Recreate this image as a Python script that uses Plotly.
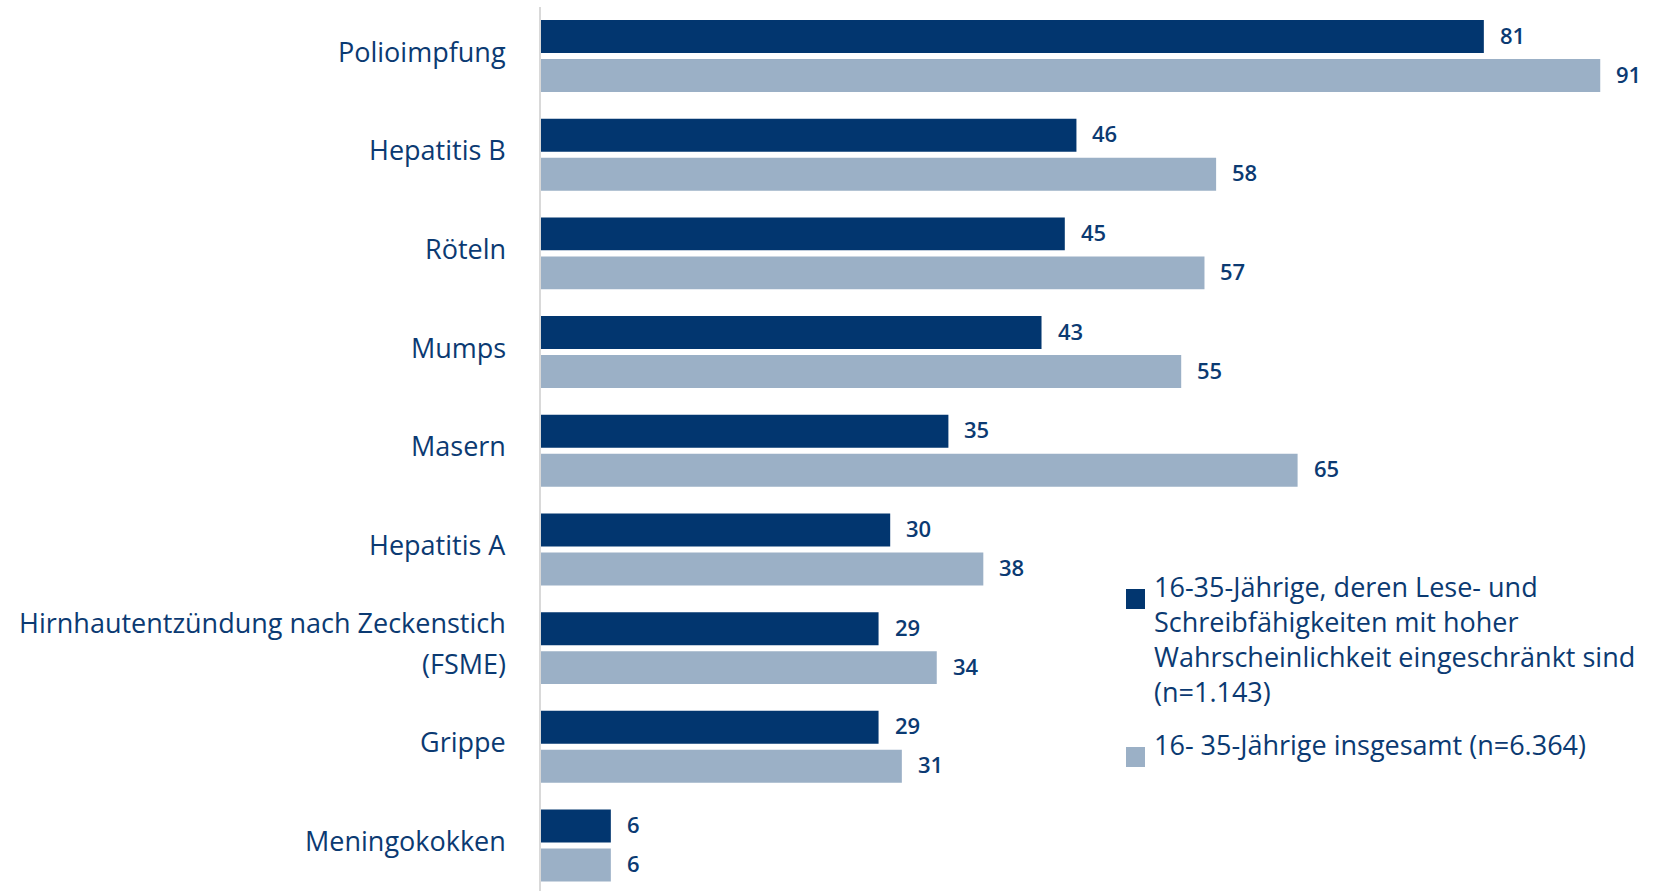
import plotly.graph_objects as go

# Impfungen bei 16-35-Jährigen (Anteil in %)
categories = [
    "Polioimpfung",
    "Hepatitis B",
    "Röteln",
    "Mumps",
    "Masern",
    "Hepatitis A",
    "Hirnhautentzündung nach Zeckenstich<br>(FSME)",
    "Grippe",
    "Meningokokken",
]
low_literacy = [81, 46, 45, 43, 35, 30, 29, 29, 6]
all_16_35 = [91, 58, 57, 55, 65, 38, 34, 31, 6]

series_names = [
    "16-35-Jährige, deren Lese- und<br>Schreibfähigkeiten mit hoher<br>Wahrscheinlichkeit eingeschränkt sind<br>(n=1.143)",
    "16- 35-Jährige insgesamt (n=6.364)",
]

DARK = "#02366f"
LIGHT = "#9bb0c6"
TEXT = "#0b3a72"
FONT = "Open Sans"

# plot geometry (pixels)
FIG_W, FIG_H = 1663, 891
M_L, M_R, M_T, M_B = 541, 5, 7, 0
PLOT_W = FIG_W - M_L - M_R
PLOT_H = FIG_H - M_T - M_B
X_MAX = PLOT_W / 11.64


def px_x(x):
    return (x - M_L) / PLOT_W


def px_y(y):
    return 1 - (y - M_T) / PLOT_H


fig = go.Figure()
fig.add_trace(go.Bar(
    y=categories, x=low_literacy, orientation="h",
    marker=dict(color=DARK, line=dict(width=0)), name=series_names[0],
))
fig.add_trace(go.Bar(
    y=categories, x=all_16_35, orientation="h",
    marker=dict(color=LIGHT, line=dict(width=0)), name=series_names[1],
))

annotations = []

# value labels next to each bar
for cat, a, b in zip(categories, low_literacy, all_16_35):
    for val, shift in ((a, 21.5), (b, -17.5)):
        annotations.append(dict(
            x=val, y=cat, xref="x", yref="y", text=str(val),
            showarrow=False, xanchor="left", yanchor="middle",
            xshift=14, yshift=shift,
            font=dict(family=FONT, size=22, color=TEXT, weight=600),
        ))

# category labels, right-aligned left of the axis line
LINE_GAP = 41
for cat in categories:
    lines = cat.split("<br>")
    n = len(lines)
    for k, line in enumerate(lines):
        annotations.append(dict(
            x=px_x(508), y=cat, xref="paper", yref="y", text=line,
            showarrow=False, xanchor="right", yanchor="middle",
            yshift=5 + (n - 1) / 2 * LINE_GAP - k * LINE_GAP,
            font=dict(family=FONT, size=27, color=TEXT),
        ))

# legend drawn as squares plus text
shapes = [
    dict(type="rect", xref="paper", yref="paper",
         x0=px_x(1126), x1=px_x(1145), y0=px_y(609), y1=px_y(589),
         fillcolor=DARK, line=dict(width=0)),
    dict(type="rect", xref="paper", yref="paper",
         x0=px_x(1126), x1=px_x(1145), y0=px_y(767), y1=px_y(747),
         fillcolor=LIGHT, line=dict(width=0)),
]
annotations.append(dict(
    x=px_x(1152), y=px_y(566), xref="paper", yref="paper",
    text=series_names[0], showarrow=False, xanchor="left", yanchor="top",
    align="left", font=dict(family=FONT, size=27, color=TEXT),
))
annotations.append(dict(
    x=px_x(1152), y=px_y(744), xref="paper", yref="paper",
    text=series_names[1], showarrow=False, xanchor="left", yanchor="middle",
    align="left", font=dict(family=FONT, size=27, color=TEXT),
))

fig.update_layout(
    width=FIG_W, height=FIG_H,
    margin=dict(l=M_L, r=M_R, t=M_T, b=M_B),
    paper_bgcolor="white", plot_bgcolor="white",
    barmode="group", bargap=0.21, bargroupgap=0.154,
    showlegend=False,
    shapes=shapes, annotations=annotations,
    xaxis=dict(range=[0, X_MAX], visible=False, showgrid=False, zeroline=False),
    yaxis=dict(
        type="category", categoryorder="array", categoryarray=categories,
        range=[8.461, -0.4965],
        showline=True, linecolor="#d9d9d9", linewidth=2,
        showgrid=False, zeroline=False, ticks="", showticklabels=False,
    ),
)

fig.write_html("out.html")
